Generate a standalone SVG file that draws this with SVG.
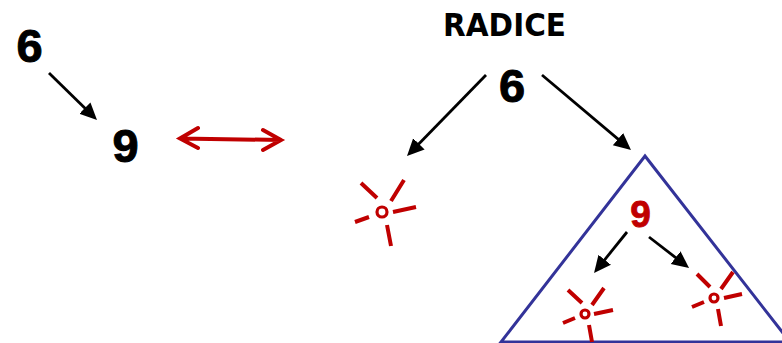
<svg xmlns="http://www.w3.org/2000/svg" width="782" height="343" viewBox="0 0 782 343">
<style>
.n{font-family:"Liberation Sans",Arial,sans-serif;font-weight:700;text-anchor:middle;fill:#000;stroke:#000;stroke-width:1}
.big{font-size:47px}
.r{font-size:37px;fill:#c00000;stroke:#c00000;stroke-width:.8}
.t{font-family:"DejaVu Sans",sans-serif;font-weight:700;font-size:32px;text-anchor:middle;fill:#000}
.a{stroke:#000;stroke-width:2.8;fill:none;marker-end:url(#h)}
.s{stroke:#c00000;stroke-width:4;fill:none}
.s circle{stroke-width:3.2}
</style>
<defs>
<marker id="h" markerUnits="userSpaceOnUse" markerWidth="20" markerHeight="20" viewBox="0 0 20 20" refX="11" refY="10" orient="auto"><path d="M0 2L17 10L0 18Z" fill="#000"/></marker>
</defs>
<rect width="782" height="343" fill="#fff"/>
<g id="triangle"><path d="M645 156L790 342H501Z" fill="none" stroke="#333399" stroke-width="3"/></g>
<g id="connectors">
<path class="a" d="M49 73L92.7 115.8"/>
<path class="a" d="M486 75L411.2 151.7"/>
<path class="a" d="M542 75L626.4 146.1"/>
<path class="a" d="M627 232L597.8 268.3"/>
<path class="a" d="M649 237L684.3 264.3"/>
<path d="M198 128L180 138.5L198 148M180 138.5L281 140M263 130L281 140L263 150" fill="none" stroke="#c00000" stroke-width="4" stroke-linecap="round" stroke-linejoin="miter"/>
</g>
<g id="node-6-left"><text class="n big" x="29.5" y="62">6</text></g>
<g id="node-9-left"><text class="n big" x="125.5" y="162">9</text></g>
<g id="node-root-label"><text class="t" x="504.5" y="35.5" textLength="123" lengthAdjust="spacingAndGlyphs">RADICE</text></g>
<g id="node-6-root"><text class="n big" x="512" y="102">6</text></g>
<g id="node-9-red"><text class="n r" x="640.5" y="227">9</text></g>
<g id="null-1" class="s"><circle cx="382" cy="212" r="5"/><path d="M361 183L377 198M404 180L391 201M393 212L416 207M355 222L369 217M387 225L391 246"/></g>
<g id="null-2" class="s"><circle cx="585" cy="314" r="4"/><path d="M568 290L582 303M604 288L592 305M594 314L613 310M563 323L575 318M589 325L592 342"/></g>
<g id="null-3" class="s"><circle cx="714" cy="298" r="4"/><path d="M697 274L710 287M733 272L721 289M724 298L742 294M692 307L704 302M718 309L721 326"/></g>
</svg>
